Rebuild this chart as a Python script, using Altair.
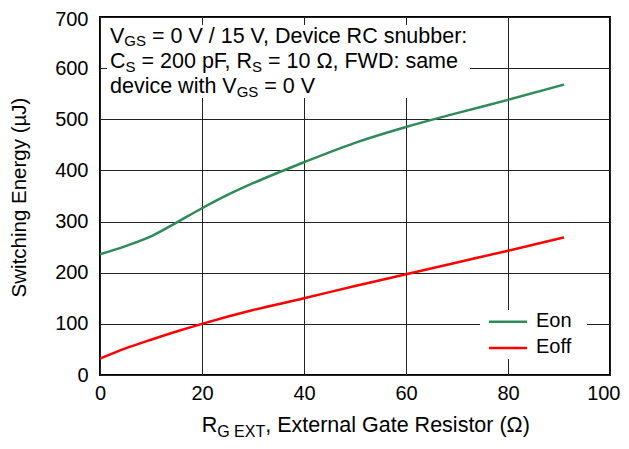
import altair as alt
import pandas as pd

# ---------------- data ----------------
eon_r = [0, 5, 10, 15, 20, 25, 30, 35, 40, 50, 60, 70, 80, 91]
eon_e = [236, 252, 271, 298, 326, 352, 375, 396, 416, 454, 485, 512, 538, 568]
eoff_r = [0, 5, 10, 15, 20, 30, 40, 50, 60, 70, 80, 91]
eoff_e = [32, 52, 69, 85, 100, 127, 150, 174, 197, 220, 243, 269]

series_names = ["Eon", "Eoff"]
series_colors = ["#2e8b57", "#ff0000"]
x_ticks = [0, 20, 40, 60, 80, 100]
y_ticks = [0, 100, 200, 300, 400, 500, 600, 700]

df = pd.concat([
    pd.DataFrame({"r": eon_r, "e": eon_e, "s": "Eon"}),
    pd.DataFrame({"r": eoff_r, "e": eoff_e, "s": "Eoff"}),
])

W, H = 510, 358
FONT = "Liberation Sans"

# Arial / Liberation Sans advance widths (per 1000 em)
CW = {' ': 278, '(': 333, ')': 333, ',': 278, '/': 278, ':': 278, '=': 584,
      'C': 722, 'D': 722, 'E': 667, 'F': 611, 'G': 778, 'R': 722, 'S': 667,
      'T': 611, 'V': 667, 'W': 944, 'X': 667, 'a': 556, 'b': 556, 'c': 500,
      'd': 556, 'e': 556, 'h': 556, 'i': 222, 'l': 222, 'm': 833, 'n': 556,
      'o': 556, 'p': 556, 'r': 333, 's': 500, 't': 278, 'u': 556, 'v': 500,
      'w': 722, 'x': 500, 'Ω': 768}
KERN = {('F', ','): -111, ('V', ','): -111}


def tw(s, size):
    w = sum(CW.get(c, 556) for c in s)
    w += sum(KERN.get((a, b), 0) for a, b in zip(s, s[1:]))
    return w * size / 1000.0


def rich(chunks, x0, y0, size, sub_size, sub_dy):
    layers = []
    x = x0
    for text, sub in chunks:
        fs = sub_size if sub else size
        stripped = text.lstrip(" ")
        x += tw(text[: len(text) - len(stripped)], fs)
        layers.append(
            alt.Chart(pd.DataFrame({"t": [stripped]}))
            .mark_text(align="left", baseline="alphabetic", font=FONT,
                       fontSize=fs, color="black")
            .encode(x=alt.value(x), y=alt.value(y0 + (sub_dy if sub else 0)),
                    text="t:N")
        )
        x += tw(stripped, fs)
    return layers


color_scale = alt.Scale(domain=series_names, range=series_colors)

lines = alt.Chart(df).mark_line(strokeWidth=2.5, interpolate="monotone").encode(
    x=alt.X("r:Q", scale=alt.Scale(domain=[0, 100], nice=False),
            axis=alt.Axis(values=x_ticks, title=None, grid=True, ticks=False,
                          domain=False, labelFontSize=20, labelFont=FONT,
                          labelColor="black", labelPadding=8,
                          labelAlign={"condition": {"test": "datum.value === 100", "value": "right"},
                                      "value": "center"},
                          labelOffset={"condition": {"test": "datum.value === 100", "value": 10},
                                       "value": 0},
                          gridColor="#222", gridWidth=1, labelFlush=False)),
    y=alt.Y("e:Q", scale=alt.Scale(domain=[0, 700], nice=False),
            axis=alt.Axis(values=y_ticks, title="Switching Energy (µJ)",
                          grid=True, ticks=False, domain=False,
                          labelFontSize=20, labelFont=FONT, labelColor="black",
                          labelPadding=12, gridColor="#222", gridWidth=1,
                          labelOffset={"condition": {"test": "datum.value === 700", "value": 2},
                                       "value": 0},
                          labelFlush=False,
                          titleFont=FONT, titleFontSize=20.5,
                          titleFontWeight="normal", titleColor="black",
                          titleX=-75, titleY=180, titleAlign="center",
                          titleBaseline="alphabetic", titleAngle=270)),
    color=alt.Color("s:N", scale=color_scale, legend=None),
)

one = pd.DataFrame({"k": [0]})

# annotation box
ann_box = alt.Chart(one).mark_rect(fill="white").encode(
    x=alt.value(7), x2=alt.value(370), y=alt.value(8), y2=alt.value(81))

AS, ASS, ADY = 21.5, 15, 3.5
ann = []
ann += rich([("V", False), ("GS", True), (" = 0 V / 15 V, Device RC snubber:", False)],
            10, 25.7, AS, ASS, ADY)
ann += rich([("C", False), ("S", True), (" = 200 pF, R", False), ("S", True),
             (" = 10 Ω, FWD: same", False)], 10, 51.3, AS, ASS, ADY)
ann += rich([("device with V", False), ("GS", True), (" = 0 V", False)],
            10, 76.3, AS, ASS, ADY)

# legend
leg_box = alt.Chart(one).mark_rect(fill="white").encode(
    x=alt.value(380), x2=alt.value(487), y=alt.value(293), y2=alt.value(342))
leg = []
for name, yl, yt in zip(series_names, [304.7, 331.0], [309.7, 336.3]):
    d = pd.DataFrame({"s": [name]})
    leg.append(alt.Chart(d).mark_rule(strokeWidth=2.5).encode(
        x=alt.value(389), x2=alt.value(427), y=alt.value(yl),
        color=alt.Color("s:N", scale=color_scale, legend=None)))
    leg.append(alt.Chart(d).mark_text(align="left", baseline="alphabetic",
                                      font=FONT, fontSize=20, color="black").encode(
        x=alt.value(436), y=alt.value(yt), text="s:N"))

# x-axis title with subscript
xt = rich([("R", False), ("G EXT", True), (", External Gate Resistor (Ω)", False)],
          101.7, 415, 21.5, 16, 5)

chart = alt.layer(lines, ann_box, *ann, leg_box, *leg, *xt).properties(
    width=W, height=H,
    autosize=alt.AutoSizeParams(type="none"),
    padding={"left": 92, "top": 9, "right": 11, "bottom": 66},
).configure_view(stroke="black", strokeWidth=2)

chart.save("out.html", embed_options={"renderer": "svg", "actions": False})
